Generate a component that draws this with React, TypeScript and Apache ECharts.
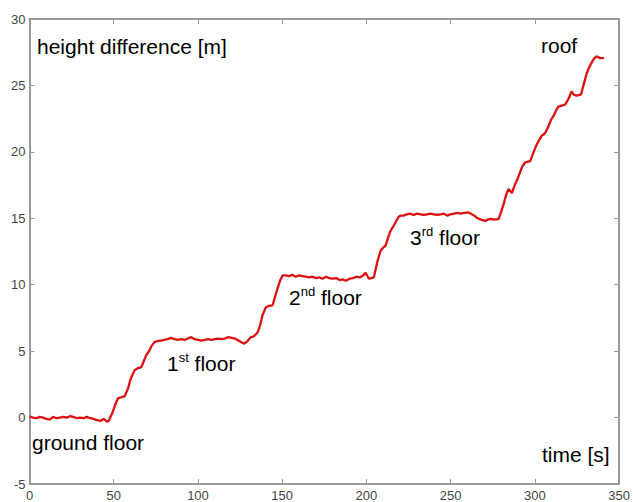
import React, { useEffect, useRef } from "react";
import * as echarts from "echarts";

const times = [
  0, 2, 4, 6, 8, 10, 12, 14, 16, 18, 20, 22, 24, 26, 28, 30, 32, 34, 36, 38, 40, 42, 44, 46, 47,
  49, 51, 52.5, 55, 56.5, 58.5, 60, 62.4, 64, 66.4, 68, 69.3, 71, 72.5, 74.3, 76,
  78, 80, 82, 84, 86, 88, 90, 92, 94, 96, 98, 100, 102, 104, 106, 108, 110, 112, 114, 116, 118, 120, 122, 124, 126, 127.5,
  129, 131.5, 133, 135.4, 137, 138.3, 140.3, 142, 144.3, 146, 147.2, 149, 150.2,
  152, 154, 156, 158, 160, 162, 164, 166, 168, 170, 172, 174, 176, 178, 180, 182, 184, 186, 187.7, 190, 192, 194, 196, 198, 199.5, 201.5, 203, 204.4,
  206.4, 208.4, 210, 211.4, 213, 214.3, 216, 217.3, 219, 220.2,
  222, 224, 226, 228, 230, 232, 234, 236, 238, 240, 242, 244, 246, 248, 250, 252, 254, 256, 258, 260.7, 262, 264, 266, 268, 270.5, 272, 274, 276, 278.4,
  280, 281.4, 283, 284.3, 286.3, 288, 289.2, 291, 292.5, 294.2, 297.2, 299, 300.5, 302.1, 304, 306, 308, 309.5, 311, 312.5, 313.9, 317.9, 320, 321.8, 323, 324.7, 327.3, 329, 330.7, 332, 333.6, 335, 336.6, 338.6, 341.1,
];

const heights = [
  0.1, 0.0, -0.05, 0.05, 0.0, -0.1, -0.15, 0.05, -0.05, 0.0, 0.05, 0.0, 0.1, 0.05, -0.05, 0.0, -0.05, 0.05, -0.05, -0.1, -0.2, -0.25, -0.1, -0.3, -0.25,
  0.3, 1.0, 1.45, 1.55, 1.6, 2.2, 2.9, 3.57, 3.7, 3.8, 4.3, 4.7, 5.0, 5.4, 5.7, 5.75,
  5.8, 5.85, 5.9, 6.0, 5.9, 5.85, 5.9, 5.85, 5.95, 6.05, 5.9, 5.85, 5.8, 5.85, 5.9, 5.85, 5.9, 5.95, 5.9, 5.95, 6.05, 6.0, 5.95, 5.8, 5.65, 5.57,
  5.7, 6.07, 6.1, 6.4, 7.0, 7.7, 8.3, 8.4, 8.45, 9.2, 9.7, 10.4, 10.7,
  10.7, 10.65, 10.75, 10.6, 10.7, 10.65, 10.6, 10.55, 10.6, 10.5, 10.55, 10.45, 10.6, 10.5, 10.45, 10.5, 10.35, 10.4, 10.3, 10.45, 10.5, 10.6, 10.55, 10.7, 10.9, 10.45, 10.5, 10.57,
  11.7, 12.56, 12.8, 12.94, 13.6, 14.06, 14.4, 14.7, 15.1, 15.2,
  15.2, 15.3, 15.35, 15.25, 15.35, 15.3, 15.25, 15.3, 15.35, 15.3, 15.25, 15.3, 15.35, 15.2, 15.3, 15.35, 15.4, 15.35, 15.4, 15.44, 15.35, 15.2, 15.0, 14.9, 14.8, 14.9, 14.95, 14.9, 14.94,
  15.5, 16.06, 16.8, 17.2, 16.9, 17.5, 17.8, 18.4, 18.9, 19.2, 19.3, 19.9, 20.4, 20.8, 21.2, 21.4, 21.9, 22.4, 22.7, 23.1, 23.4, 23.56, 24.0, 24.56, 24.3, 24.24, 24.3, 25.1, 25.9, 26.3, 26.7, 27.0, 27.2, 27.06, 27.06,
];

const xMin = 0;
const xMax = 350;
const xStep = 50;
const yMin = -5;
const yMax = 30;
const yStep = 5;

const axisColor = "#9a9a9a";
const font = "Liberation Sans, Arial, sans-serif";

export default function App() {
  const ref = useRef<HTMLDivElement>(null);

  useEffect(() => {
    if (!ref.current) return;
    const chart = echarts.init(ref.current, null, { renderer: "svg" });
    const data = times.map((t, i) => [t, heights[i]]);

    const axisCommon = {
      axisLine: { show: true, onZero: false, lineStyle: { color: axisColor, width: 2 } },
      axisTick: { show: true, inside: true, length: 5, lineStyle: { color: axisColor, width: 1 } },
      splitLine: { show: false },
    };
    const labelStyle = { color: "#444", fontSize: 13, fontFamily: font };

    const textStyle = { fontFamily: font, fontSize: 21, fill: "#000" };
    const floorRich = {
      b: { fontFamily: font, fontSize: 21, color: "#000", lineHeight: 25 },
      s: { fontFamily: font, fontSize: 13, color: "#000", lineHeight: 25, verticalAlign: "top" },
    };

    chart.setOption({
      animation: false,
      grid: { left: 29.5, right: 11.5, top: 19, bottom: 16, containLabel: false },
      xAxis: [
        {
          type: "value",
          min: xMin,
          max: xMax,
          interval: xStep,
          position: "bottom",
          ...axisCommon,
          axisLabel: { ...labelStyle, margin: 5 },
        },
        {
          type: "value",
          min: xMin,
          max: xMax,
          interval: xStep,
          position: "top",
          ...axisCommon,
          axisLabel: { show: false },
        },
      ],
      yAxis: [
        {
          type: "value",
          min: yMin,
          max: yMax,
          interval: yStep,
          position: "left",
          ...axisCommon,
          axisLabel: { ...labelStyle, margin: 4 },
        },
        {
          type: "value",
          min: yMin,
          max: yMax,
          interval: yStep,
          position: "right",
          ...axisCommon,
          axisLabel: { show: false },
        },
      ],
      series: [
        {
          type: "line",
          data,
          xAxisIndex: 0,
          yAxisIndex: 0,
          showSymbol: false,
          symbol: "none",
          lineStyle: { color: "#dd1111", width: 2.3 },
        },
      ],
      graphic: [
        { type: "text", left: 37, top: 36, style: { ...textStyle, text: "height difference [m]" } },
        { type: "text", left: 541, top: 35, style: { ...textStyle, text: "roof" } },
        { type: "text", left: 32, top: 432, style: { ...textStyle, text: "ground floor" } },
        { type: "text", left: 542, top: 444, style: { ...textStyle, text: "time [s]" } },
        { type: "text", left: 167, top: 351, style: { text: "{b|1}{s|st}{b| floor}", rich: floorRich } },
        { type: "text", left: 289, top: 285, style: { text: "{b|2}{s|nd}{b| floor}", rich: floorRich } },
        { type: "text", left: 410, top: 225, style: { text: "{b|3}{s|rd}{b| floor}", rich: floorRich } },
      ],
    });

    return () => chart.dispose();
  }, []);

  return (
    <div
      ref={ref}
      style={{ position: "absolute", left: 0, top: 0, width: 633, height: 502, background: "#fff" }}
    />
  );
}
